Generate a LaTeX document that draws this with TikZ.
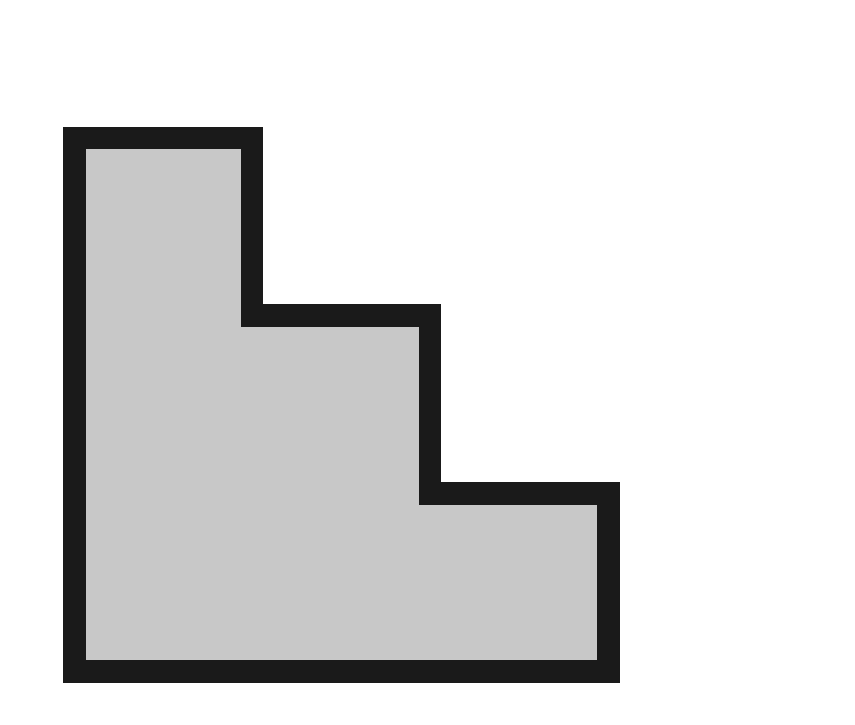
\documentclass[tikz,border=0pt]{standalone}
\definecolor{fillgray}{HTML}{C8C8C8}
\definecolor{edgegray}{HTML}{1A1A1A}
\tikzset{stairshape/.style={fill=fillgray,draw=edgegray,line width=22.5pt,line join=miter}}
\begin{document}
\begin{tikzpicture}[x=1pt,y=-1pt]
\useasboundingbox (0,0) rectangle (855,724);
\draw[stairshape] (74.5,138) -- (252,138) -- (252,315.5) -- (430,315.5) -- (430,493.5) -- (608.5,493.5) -- (608.5,671.5) -- (74.5,671.5) -- cycle;
\end{tikzpicture}
\end{document}
